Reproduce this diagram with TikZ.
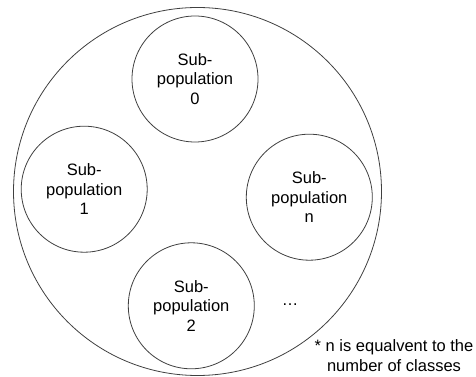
\documentclass[tikz,border=0pt]{standalone}
\usepackage{fontspec}
\setmainfont{Liberation Sans}
\begin{document}
\begin{tikzpicture}[x=1pt,y=1pt,
  txt/.style={font=\fontsize{16.5}{19.7}\selectfont, align=center, inner sep=0pt},
  subpop/.style={txt, circle, draw=black!75, line width=0.8pt, minimum size=126pt},
  outer/.style={circle, draw=black!75, line width=0.8pt, minimum size=368pt, inner sep=0pt}]
\useasboundingbox (0,0) rectangle (476,377);
\node[outer] (pop) at (197.5,185.5) {};
\node[subpop] (s0) at (195,298) {Sub-\\population\\0};
\node[subpop] (s1) at (84.2,187.8) {Sub-\\population\\1};
\node[subpop] (sn) at (309.3,179.8) {Sub-\\population\\n};
\node[subpop] (s2) at (191.3,71.2) {Sub-\\population\\2};
\node[txt, anchor=base] (dots) at (290,71) {\dots};
\node[txt] (note) at (394,21.5) {* n is equalvent to the\\number of classes};
\end{tikzpicture}
\end{document}
